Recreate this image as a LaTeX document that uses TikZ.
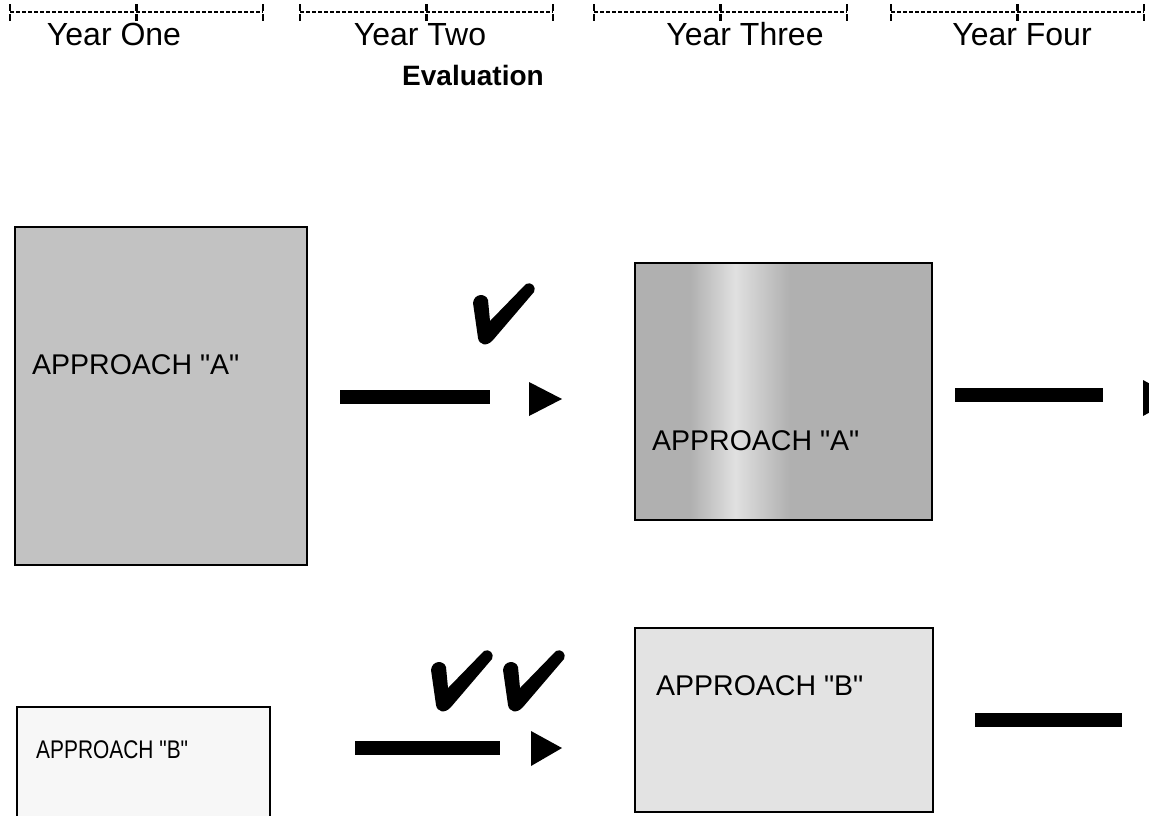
\documentclass[tikz,border=0pt]{standalone}
\usepackage{fontspec}
\newfontfamily\lsans{Liberation Sans}
\newfontfamily\lsanscond{Liberation Sans}[FakeStretch=0.82]
\begin{document}
\begin{tikzpicture}[x=1pt,y=-1pt,
  tline/.style={line width=1.5pt, dash pattern=on 3.5pt off 2.5pt},
  ttick/.style={line width=2.2pt, dash pattern=on 7pt off 3pt},
  yearlbl/.style={anchor=base, inner sep=0pt, font=\lsans\fontsize{32}{38}\selectfont},
  evallbl/.style={anchor=base, inner sep=0pt, font=\lsans\fontsize{28}{34}\selectfont\bfseries},
  boxline/.style={draw=black, line width=2.4pt},
  apprlbl/.style={anchor=base west, inner sep=0pt, font=\lsans\fontsize{28.5}{34}\selectfont},
  bar/.style={line width=14pt},
  tipfill/.style={fill=black},
  chkfill/.style={fill=black},
]
\definecolor{fillAone}{gray}{0.76}
\definecolor{fillAtwo}{gray}{0.69}
\definecolor{fillAband}{gray}{0.88}
\definecolor{fillBone}{gray}{0.97}
\definecolor{fillBtwo}{gray}{0.89}
\useasboundingbox (0,0) rectangle (1149,815);
\clip (0,0) rectangle (1149,815);
\fill[white] (0,0) rectangle (1149,815);

% timeline
\foreach \s in {10,300,594,891} {
  \draw[tline] (\s,12) -- (\s+253,12);
  \foreach \d in {0,126.5,253} \draw[ttick] (\s+\d,4) -- (\s+\d,21);
}
\node[yearlbl] (y1) at (114,45) {Year One};
\node[yearlbl] (y2) at (420,45) {Year Two};
\node[yearlbl] (y3) at (745,45) {Year Three};
\node[yearlbl] (y4) at (1022,45) {Year Four};
\node[evallbl] (ev) at (473,85) {Evaluation};

% boxes
\path[boxline, fill=fillAone] (15,227) rectangle (307,565);
\node[apprlbl] (la1) at (32,374) {APPROACH "A"};

\fill[fillAtwo] (635,263) rectangle (932,520);
\shade[left color=fillAtwo, right color=fillAband] (690,263) rectangle (735,520);
\shade[left color=fillAband, right color=fillAtwo] (735,263) rectangle (790,520);
\draw[boxline] (635,263) rectangle (932,520);
\node[apprlbl] (la2) at (652,450) {APPROACH "A"};

\path[boxline, fill=fillBone] (17,707) rectangle (270,840);
\node[apprlbl, font=\lsanscond\fontsize{25.5}{30}\selectfont] (lb1) at (36,758) {APPROACH "B"};

\path[boxline, fill=fillBtwo] (635,628) rectangle (933,812);
\node[apprlbl] (lb2) at (656,695) {APPROACH "B"};

% arrows row A
\coordinate (a1s) at (340,397);
\coordinate (a1e) at (490,397);
\draw[bar] (a1s) -- (a1e);
\fill[tipfill] (529,382) -- (529,416) -- (562,399) -- cycle;
\coordinate (a2s) at (955,395);
\coordinate (a2e) at (1103,395);
\draw[bar] (a2s) -- (a2e);
\fill[tipfill] (1143,380) -- (1143,416) -- (1176,398) -- cycle;

% arrows row B
\coordinate (b1s) at (355,748);
\coordinate (b1e) at (500,748);
\draw[bar] (b1s) -- (b1e);
\fill[tipfill] (531,731) -- (531,766) -- (562,748) -- cycle;
\coordinate (b2s) at (975,720);
\coordinate (b2e) at (1122,720);
\draw[bar] (b2s) -- (b2e);

% check marks
\foreach \cx/\cy in {470/283, 428/650, 500/650} {
  \begin{scope}[shift={(\cx,\cy)}]
    \fill[chkfill] (3,20) -- (8,55) .. controls (9,62) and (17,64) .. (23,57)
      -- (64,9) .. controls (67,4) and (61,-2) .. (56,1) -- (20,38) -- (18,17)
      .. controls (16,10) and (4,10) .. (3,20) -- cycle;
  \end{scope}
}
\end{tikzpicture}
\end{document}
